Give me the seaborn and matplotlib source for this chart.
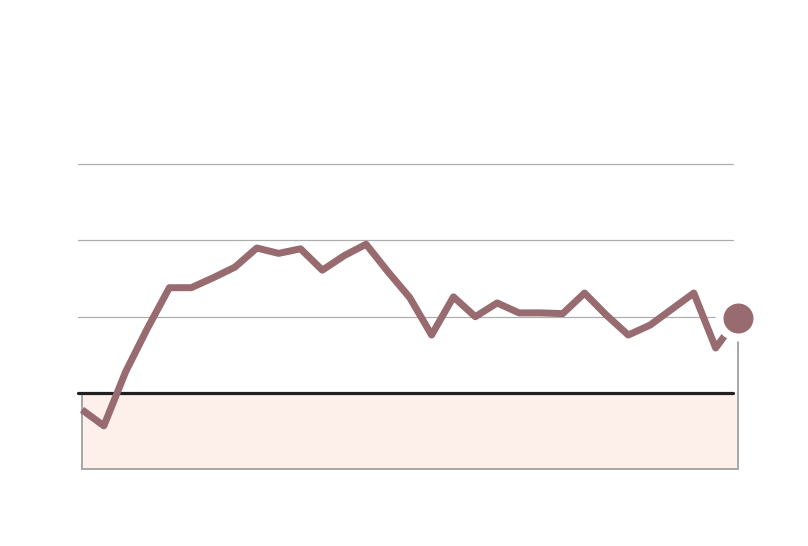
import matplotlib
matplotlib.use("Agg")
import matplotlib.pyplot as plt
import seaborn as sns
import pandas as pd
import numpy as np

# ---- data ----
period = list(range(31))
values = [-0.22, -0.43, 0.28, 0.85, 1.38, 1.38, 1.51, 1.65, 1.90, 1.83,
          1.89, 1.61, 1.80, 1.95, 1.59, 1.25, 0.76, 1.26, 1.00, 1.18,
          1.05, 1.05, 1.04, 1.31, 1.02, 0.76, 0.89, 1.10, 1.31, 0.59, 0.98]
grid_levels = [1, 2, 3]
baseline = 0
shade_bottom = -1

df = pd.DataFrame({"period": period, "value": values})

sns.set_theme(style="white")
W, H = 808, 546
fig = plt.figure(figsize=(W / 100, H / 100), dpi=100)
ax = fig.add_axes([0, 0, 1, 1])

# pixel mapping helpers (for axis limits only)
x0_px, dx_px = 82, 21.85
y0_px, dy_px = 393, 76.3
ax.set_xlim(-x0_px / dx_px, (W - x0_px) / dx_px)
ax.set_ylim((y0_px - H) / dy_px, y0_px / dy_px)
ax.axis("off")

px = 0.72  # points per pixel
x_left = -4 / dx_px
x_right = (733 - x0_px) / dx_px

# gridlines
for g in grid_levels:
    ax.plot([x_left, x_right], [g, g], color="#adadad", lw=1.2 * px, zorder=1)

# shaded band below baseline
ax.fill_between([period[0], period[-1]], shade_bottom, baseline,
                color="#fdefea", lw=0, zorder=0)
ax.plot([period[0], period[0], period[-1], period[-1]],
        [baseline, shade_bottom, shade_bottom, values[-1]],
        color="#a8a8a8", lw=2 * px, zorder=1, solid_joinstyle="miter")

# baseline
ax.plot([x_left, x_right], [baseline, baseline], color="#231f1e", lw=3.2 * px, zorder=2)

# main line
sns.lineplot(data=df, x="period", y="value", ax=ax, color="#986b70",
             lw=7 * px, zorder=3, solid_joinstyle="round", solid_capstyle="butt")

# end dot
sns.scatterplot(x=[period[-1]], y=[values[-1]], ax=ax, s=(38 * px) ** 2,
                color="#986b70", edgecolor="white", linewidth=8 * px, zorder=4)

ax.set_xlabel("")
ax.set_ylabel("")
fig.savefig("out.png", dpi=100)
